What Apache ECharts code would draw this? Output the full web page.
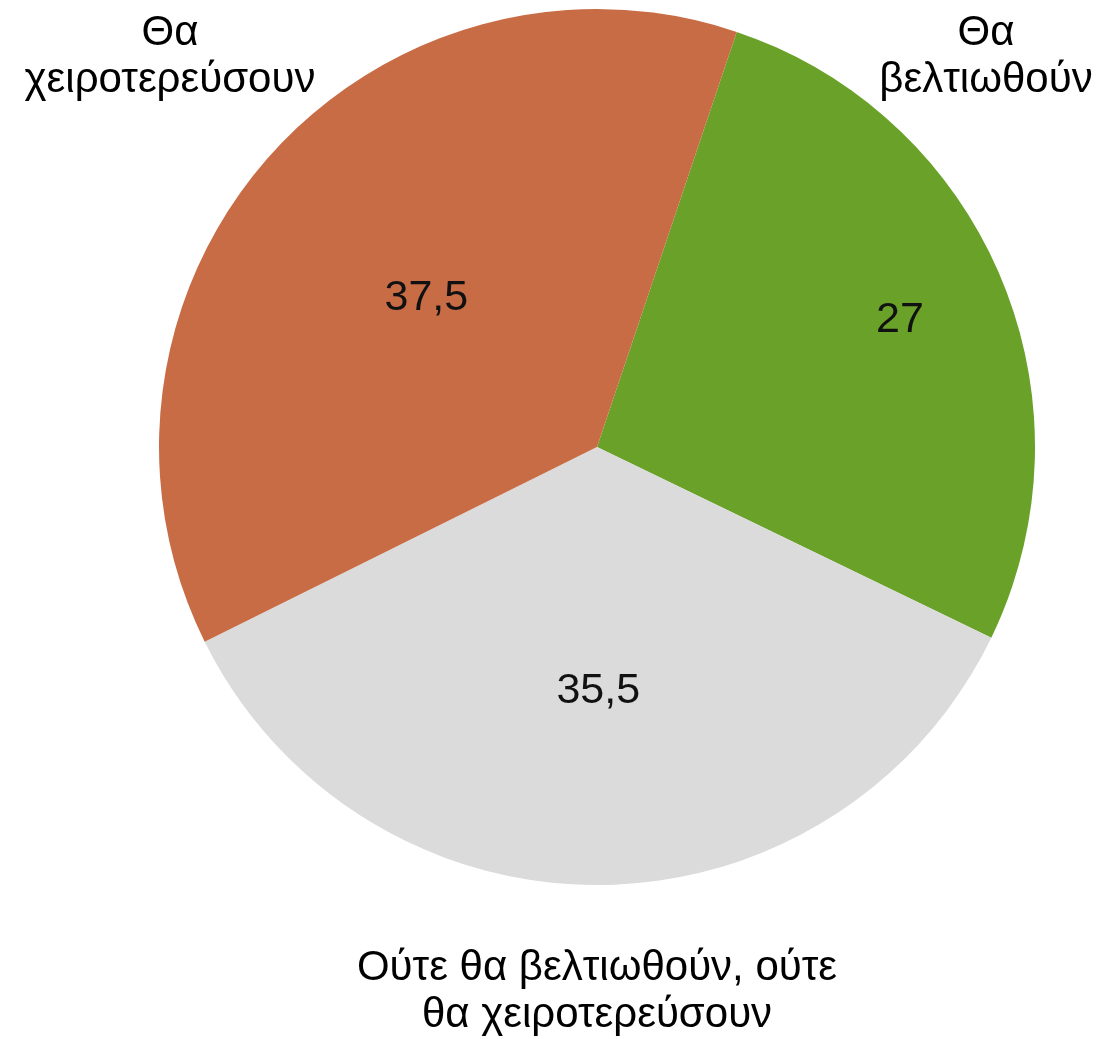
<!DOCTYPE html>
<html>
<head>
<meta charset="utf-8">
<script src="https://cdn.jsdelivr.net/npm/echarts@6/dist/echarts.min.js"></script>
<style>
  html, body { margin: 0; padding: 0; background: #fff; }
  #chart { width: 1103px; height: 1039px; }
</style>
</head>
<body>
<div id="chart"></div>
<script>
// κατηγορίες και τιμές (%)
const categories = ['Θα\nβελτιωθούν', 'Ούτε θα βελτιωθούν, ούτε\nθα χειροτερεύσουν', 'Θα\nχειροτερεύσουν'];
const values = [27, 35.5, 37.5];
const valueLabels = ['27', '35,5', '37,5'];
const colors = ['#6AA129', '#DBDBDB', '#C86C45'];

// θέση των αριθμών μέσα στα κομμάτια (κλάσμα της ακτίνας)
const valueRadius = [0.74, 0.55, 0.51];
// θέσεις ονομάτων
const namePos = [[986, 57], [597, 992], [170, 57]];

const cx = 597, cy = 447, R = 438;
const font = '"Liberation Sans", Arial, sans-serif';

let chart = echarts.init(document.getElementById('chart'));

const pieData = values.map((v, i) => ({
  value: v,
  name: categories[i],
  itemStyle: { color: colors[i] }
}));

chart.setOption({
  backgroundColor: '#ffffff',
  animation: false,
  series: [{
    type: 'pie',
    center: [cx, cy],
    radius: [0, R],
    startAngle: 71.4,
    clockwise: true,
    silent: true,
    data: pieData,
    label: {
      show: true,
      position: 'inside',
      formatter: p => valueLabels[p.dataIndex],
      color: '#111',
      fontSize: 43,
      fontFamily: font
    },
    labelLine: { show: false },
    // move the value labels out along the slice's middle line
    labelLayout: function (p) {
      const r = p.labelRect;
      const lx = r.x + r.width / 2, ly = r.y + r.height / 2;
      const k = valueRadius[p.dataIndex] / 0.5;
      return { x: cx + (lx - cx) * k, y: cy + (ly - cy) * k, align: 'center', verticalAlign: 'middle' };
    }
  }, {
    type: 'pie',
    center: [cx, cy],
    radius: [0, R],
    startAngle: 71.4,
    clockwise: true,
    silent: true,
    data: values.map((v, i) => ({ value: v, name: categories[i] })),
    itemStyle: { color: 'rgba(0,0,0,0)' },
    label: {
      show: true,
      position: 'outside',
      alignTo: 'none',
      overflow: 'none',
      formatter: '{b}',
      color: '#000',
      fontSize: 42,
      lineHeight: 47,
      fontFamily: font,
      align: 'center'
    },
    labelLine: { show: false },
    labelLayout: function (p) {
      const pos = namePos[p.dataIndex];
      return { x: pos[0], y: pos[1], align: 'center', verticalAlign: 'middle', width: 600 };
    }
  }]
});
</script>
</body>
</html>
